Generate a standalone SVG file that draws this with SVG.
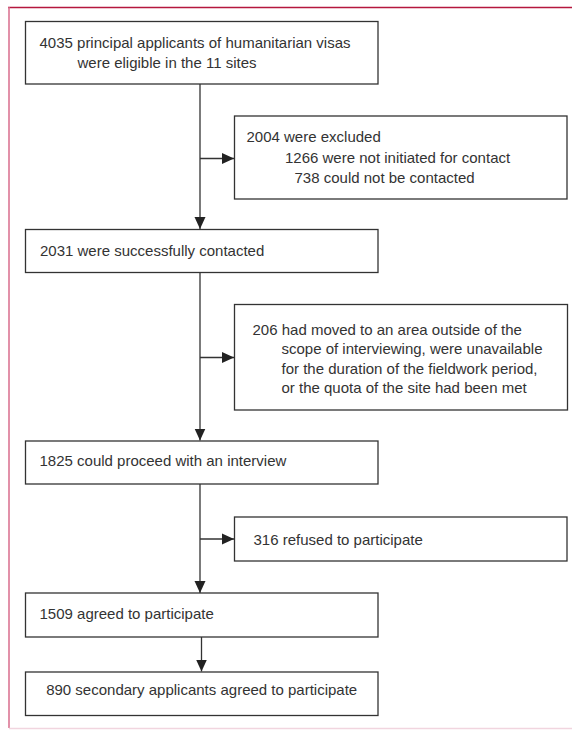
<svg xmlns="http://www.w3.org/2000/svg" width="572" height="730" viewBox="0 0 572 730">
  <style>
    .box { fill: #ffffff; stroke: #333333; stroke-width: 1.3; }
    .t { font-family: "Liberation Sans", Arial, sans-serif; font-size: 15px; fill: #333333; }
    .c { fill: none; stroke: #333333; stroke-width: 1.3; }
  </style>
  <defs>
    <marker id="ah" markerUnits="userSpaceOnUse" markerWidth="12" markerHeight="12" viewBox="0 0 12 11" refX="12" refY="5.5" orient="auto">
      <path d="M0,0 L12,5.5 L0,11 Z" fill="#222222"/>
    </marker>
  </defs>
  <rect width="572" height="730" fill="#ffffff"/>
  <g id="frame">
    <line x1="8" y1="7.5" x2="572" y2="7.5" stroke="#b5173d" stroke-width="1.5"/>
    <line x1="9" y1="7" x2="9" y2="728" stroke="#d86c8c" stroke-width="1.5"/>
    <line x1="9" y1="728.5" x2="572" y2="728.5" stroke="#f1d5df" stroke-width="1.5"/>
  </g>
  <g id="connectors">
    <line class="c" x1="200" y1="84" x2="200" y2="229" marker-end="url(#ah)"/>
    <line class="c" x1="200" y1="158.5" x2="234" y2="158.5" marker-end="url(#ah)"/>
    <line class="c" x1="200" y1="272.5" x2="200" y2="440.5" marker-end="url(#ah)"/>
    <line class="c" x1="200" y1="357.5" x2="234" y2="357.5" marker-end="url(#ah)"/>
    <line class="c" x1="200" y1="484" x2="200" y2="593" marker-end="url(#ah)"/>
    <line class="c" x1="200" y1="539" x2="234" y2="539" marker-end="url(#ah)"/>
    <line class="c" x1="201.5" y1="637" x2="201.5" y2="671.5" marker-end="url(#ah)"/>
  </g>
  <g id="n1">
    <rect class="box" x="25.5" y="21.5" width="352.5" height="62.5"/>
    <text class="t" x="39.5" y="47.5">4035 principal applicants of humanitarian visas</text>
    <text class="t" x="77.5" y="67.5">were eligible in the 11 sites</text>
  </g>
  <g id="n2">
    <rect class="box" x="234.5" y="116" width="332.5" height="83"/>
    <text class="t" x="246.5" y="142">2004 were excluded</text>
    <text class="t" x="285" y="162.5">1266 were not initiated for contact</text>
    <text class="t" x="294.5" y="183">738 could not be contacted</text>
  </g>
  <g id="n3">
    <rect class="box" x="25.5" y="229.5" width="352.5" height="43"/>
    <text class="t" x="40" y="256">2031 were successfully contacted</text>
  </g>
  <g id="n4">
    <rect class="box" x="234.5" y="304.5" width="333" height="105.5"/>
    <text class="t" x="252.5" y="334.5">206 had moved to an area outside of the</text>
    <text class="t" x="281.5" y="354">scope of interviewing, were unavailable</text>
    <text class="t" x="281.5" y="373.5">for the duration of the fieldwork period,</text>
    <text class="t" x="281.5" y="393">or the quota of the site had been met</text>
  </g>
  <g id="n5">
    <rect class="box" x="25.5" y="441" width="352.5" height="43"/>
    <text class="t" x="39.5" y="466">1825 could proceed with an interview</text>
  </g>
  <g id="n6">
    <rect class="box" x="234.5" y="517" width="332.5" height="44"/>
    <text class="t" x="253.5" y="545">316 refused to participate</text>
  </g>
  <g id="n7">
    <rect class="box" x="25.5" y="593" width="352.5" height="44"/>
    <text class="t" x="39.5" y="618.5">1509 agreed to participate</text>
  </g>
  <g id="n8">
    <rect class="box" x="25.5" y="672" width="352.5" height="43.5"/>
    <text class="t" x="201.7" y="695" text-anchor="middle">890 secondary applicants agreed to participate</text>
  </g>
</svg>
